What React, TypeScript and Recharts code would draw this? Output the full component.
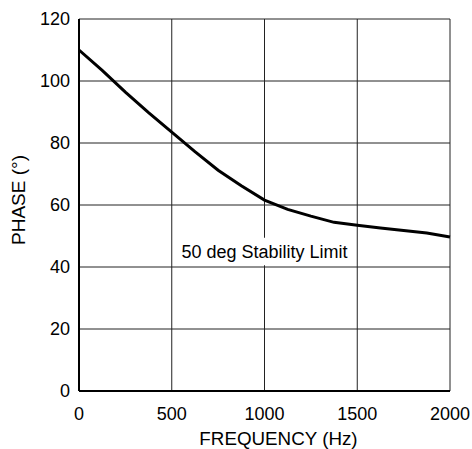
import React from 'react';
import { LineChart, Line, XAxis, YAxis, CartesianGrid, ReferenceArea } from 'recharts';

const frequencies = [0, 125, 250, 375, 500, 625, 750, 875, 1000, 1125, 1250, 1375, 1500, 1625, 1750, 1875, 2000];
const phases = [110, 103.4, 96.4, 89.8, 83.5, 77.2, 71.2, 66.2, 61.6, 58.6, 56.4, 54.4, 53.5, 52.6, 51.8, 51.0, 49.7];
const xTicks = [0, 500, 1000, 1500, 2000];
const yTicks = [0, 20, 40, 60, 80, 100, 120];
const limitLabel = '50 deg Stability Limit';

const data = frequencies.map((f, i) => ({ freq: f, phase: phases[i] }));

const font = 'Liberation Sans, Arial, Helvetica, sans-serif';
const fs = 18;

export default function App() {
  return (
    <div style={{ position: 'absolute', left: 0, top: 0, background: '#fff' }}>
      <LineChart
        width={472}
        height={449}
        data={data}
        margin={{ top: 19, right: 22, left: 0, bottom: 0 }}
        style={{ fontFamily: font }}
      >
        <CartesianGrid stroke="#222" strokeWidth={1} />
        <XAxis
          dataKey="freq"
          type="number"
          domain={[0, 2000]}
          ticks={xTicks}
          interval={0}
          height={58}
          tickLine={false}
          tickMargin={10}
          axisLine={{ stroke: '#000', strokeWidth: 2 }}
          tick={{ fill: '#000', fontSize: fs, fontFamily: font }}
          label={{ value: 'FREQUENCY (Hz)', position: 'insideBottom', offset: 4, dx: 14, fill: '#000', fontSize: 18.8, fontFamily: font }}
        />
        <YAxis
          type="number"
          domain={[0, 120]}
          ticks={yTicks}
          interval={0}
          width={79}
          tickLine={false}
          tickMargin={3}
          axisLine={{ stroke: '#000', strokeWidth: 2 }}
          tick={{ fill: '#000', fontSize: fs, fontFamily: font }}
          label={{ value: 'PHASE (°)', angle: -90, position: 'insideLeft', offset: 18, dy: -5, fill: '#000', fontSize: 19, fontFamily: font, style: { textAnchor: 'middle' } }}
        />
        <ReferenceArea
          x1={520}
          x2={1480}
          y1={40.6}
          y2={49.4}
          fill="#fff"
          fillOpacity={1}
          stroke="none"
          ifOverflow="visible"
          label={{ value: limitLabel, position: 'center', fill: '#000', fontSize: fs, fontFamily: font }}
        />
        <Line
          type="linear"
          dataKey="phase"
          stroke="#000"
          strokeWidth={3}
          dot={false}
          isAnimationActive={false}
        />
      </LineChart>
    </div>
  );
}
